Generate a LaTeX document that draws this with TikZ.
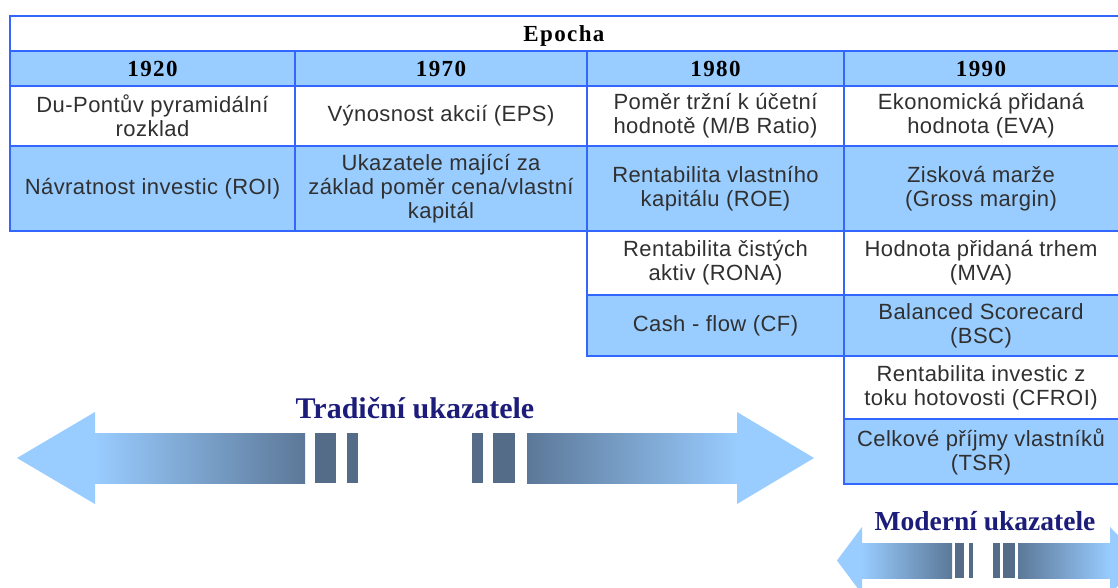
\documentclass[tikz,border=0pt]{standalone}
\usepackage{fontspec}
\setmainfont{Liberation Serif}
\newfontfamily\cellfont[LetterSpace=2]{Liberation Sans}
\newfontfamily\headfont[LetterSpace=6]{Liberation Serif}
\newfontfamily\labelfont{Liberation Serif}

\definecolor{tblue}{RGB}{51,102,255}
\definecolor{cellblue}{RGB}{153,204,255}
\definecolor{textgray}{RGB}{48,48,48}
\definecolor{arrowblue}{RGB}{153,204,255}
\definecolor{slate}{RGB}{92,120,152}
\definecolor{barslate}{RGB}{84,108,136}
\definecolor{navy}{RGB}{28,28,122}

\begin{document}
\begin{tikzpicture}[x=1pt,y=-1pt,
  cellbox/.style={inner sep=0pt, outer sep=0pt, align=center, text=textgray,
    font=\cellfont\fontsize{22}{24}\selectfont},
  bluecell/.style={cellbox, fill=cellblue},
  whitecell/.style={cellbox, fill=white},
  headcell/.style={inner sep=0pt, outer sep=0pt, text=black, text depth=0pt,
    font=\headfont\bfseries\fontsize{23}{26}\selectfont},
  innerline/.style={draw=tblue, line width=1.2pt},
  outerline/.style={draw=tblue, line width=2.6pt, line join=miter},
  arrowlabel/.style={inner sep=0pt, anchor=base, text=navy},
  bar/.style={fill=barslate}]

\clip (0,0) rectangle (1118,588);
\fill[white] (0,0) rectangle (1118,588);

% ---- header rows ----
\node[headcell, fill=white, minimum width=1108, minimum height=35] (epocha) at (564,33.5) {Epocha};
\node[headcell, fill=cellblue, minimum width=285, minimum height=35] (y1920) at (152.5,68.5) {1920};
\node[headcell, fill=cellblue, minimum width=292, minimum height=35] (y1970) at (441,68.5) {1970};
\node[headcell, fill=cellblue, minimum width=257, minimum height=35] (y1980) at (715.5,68.5) {1980};
\node[headcell, fill=cellblue, minimum width=274, minimum height=35] (y1990) at (981,68.5) {1990};

% ---- first row of measures ----
\node[whitecell, minimum width=285, minimum height=60] (dupont) at (152.5,116) {Du-Pontův pyramidální\\rozklad};
\node[whitecell, minimum width=292, minimum height=60] (eps) at (441,116) {Výnosnost akcií (EPS)};
\node[whitecell, minimum width=257, minimum height=60] (mb) at (715.5,116) {Poměr tržní k účetní\\hodnotě (M/B Ratio)};
\node[whitecell, minimum width=274, minimum height=60] (eva) at (981,116) {Ekonomická přidaná\\hodnota (EVA)};

% ---- second row ----
\node[bluecell, minimum width=285, minimum height=85] (roi) at (152.5,188.5) {Návratnost investic (ROI)};
\node[bluecell, minimum width=292, minimum height=85] (pbv) at (441,188.5) {Ukazatele mající za\\základ poměr cena/vlastní\\kapitál};
\node[bluecell, minimum width=257, minimum height=85] (roe) at (715.5,188.5) {Rentabilita vlastního\\kapitálu (ROE)};
\node[bluecell, minimum width=274, minimum height=85] (gm) at (981,188.5) {Zisková marže\\(Gross margin)};

% ---- later decades ----
\node[whitecell, minimum width=257, minimum height=64] (rona) at (715.5,263) {Rentabilita čistých\\aktiv (RONA)};
\node[whitecell, minimum width=274, minimum height=64] (mva) at (981,263) {Hodnota přidaná trhem\\(MVA)};
\node[bluecell, minimum width=257, minimum height=61] (cf) at (715.5,325.5) {Cash - flow (CF)};
\node[bluecell, minimum width=274, minimum height=61] (bsc) at (981,325.5) {Balanced Scorecard\\(BSC)};
\node[whitecell, minimum width=274, minimum height=63] (cfroi) at (981,387.5) {Rentabilita investic z\\toku hotovosti (CFROI)};
\node[bluecell, minimum width=274, minimum height=65] (tsr) at (981,451.5) {Celkové příjmy vlastníků\\(TSR)};

% ---- grid lines ----
\draw[innerline] (epocha.south west) -- (epocha.south east);
\draw[innerline] (y1920.south west) -- (1122,86);
\draw[innerline] (dupont.south west) -- (1122,146);
\draw[innerline] (rona.north west) -- (1122,231);
\draw[innerline] (rona.south west) -- (1122,295);
\draw[innerline] (cfroi.north west) -- (1122,356);
\draw[innerline] (cfroi.south west) -- (1122,419);
\draw[innerline] (y1920.north east) -- (roi.south east);
\draw[innerline] (y1970.north east) -- (pbv.south east);
\draw[innerline] (y1980.north east) -- (cf.south east);

% ---- outer staircase border ----
\draw[outerline] (1124,16) -- (10,16) -- (10,231) -- (587,231) -- (587,356)
  -- (844,356) -- (844,484) -- (1124,484);

% ---- traditional measures: double arrow broken in the middle ----
\fill[arrowblue] (17,458) -- (95,412) -- (95,504) -- cycle;
\shade[left color=arrowblue, right color=slate] (94.5,433) rectangle (305,483);
\fill[bar] (315,433) rectangle (336,483);
\fill[bar] (347,433) rectangle (358,483);
\fill[bar] (472,433) rectangle (483,483);
\fill[bar] (493,433) rectangle (515,483);
\shade[left color=slate, right color=arrowblue] (527,433) rectangle (737.5,483);
\fill[arrowblue] (737,412) -- (814,458) -- (737,504) -- cycle;
\node[arrowlabel, font=\labelfont\bfseries\fontsize{30}{34}\selectfont] (trad) at (415,418) {Tradiční ukazatele};

% ---- modern measures ----
\fill[arrowblue] (837,560.5) -- (862,527) -- (862,594) -- cycle;
\shade[left color=arrowblue, right color=slate] (861.5,543) rectangle (952,578);
\fill[bar] (955,543) rectangle (964,578);
\fill[bar] (969,543) rectangle (973,578);
\fill[bar] (993,543) rectangle (1000,578);
\fill[bar] (1003,543) rectangle (1015,578);
\shade[left color=slate, right color=arrowblue] (1018,543) rectangle (1110.5,578);
\fill[arrowblue] (1110,527) -- (1143,560.5) -- (1110,594) -- cycle;
\node[arrowlabel, font=\labelfont\bfseries\fontsize{27.5}{31}\selectfont] (mod) at (985,530) {Moderní ukazatele};

\end{tikzpicture}
\end{document}
